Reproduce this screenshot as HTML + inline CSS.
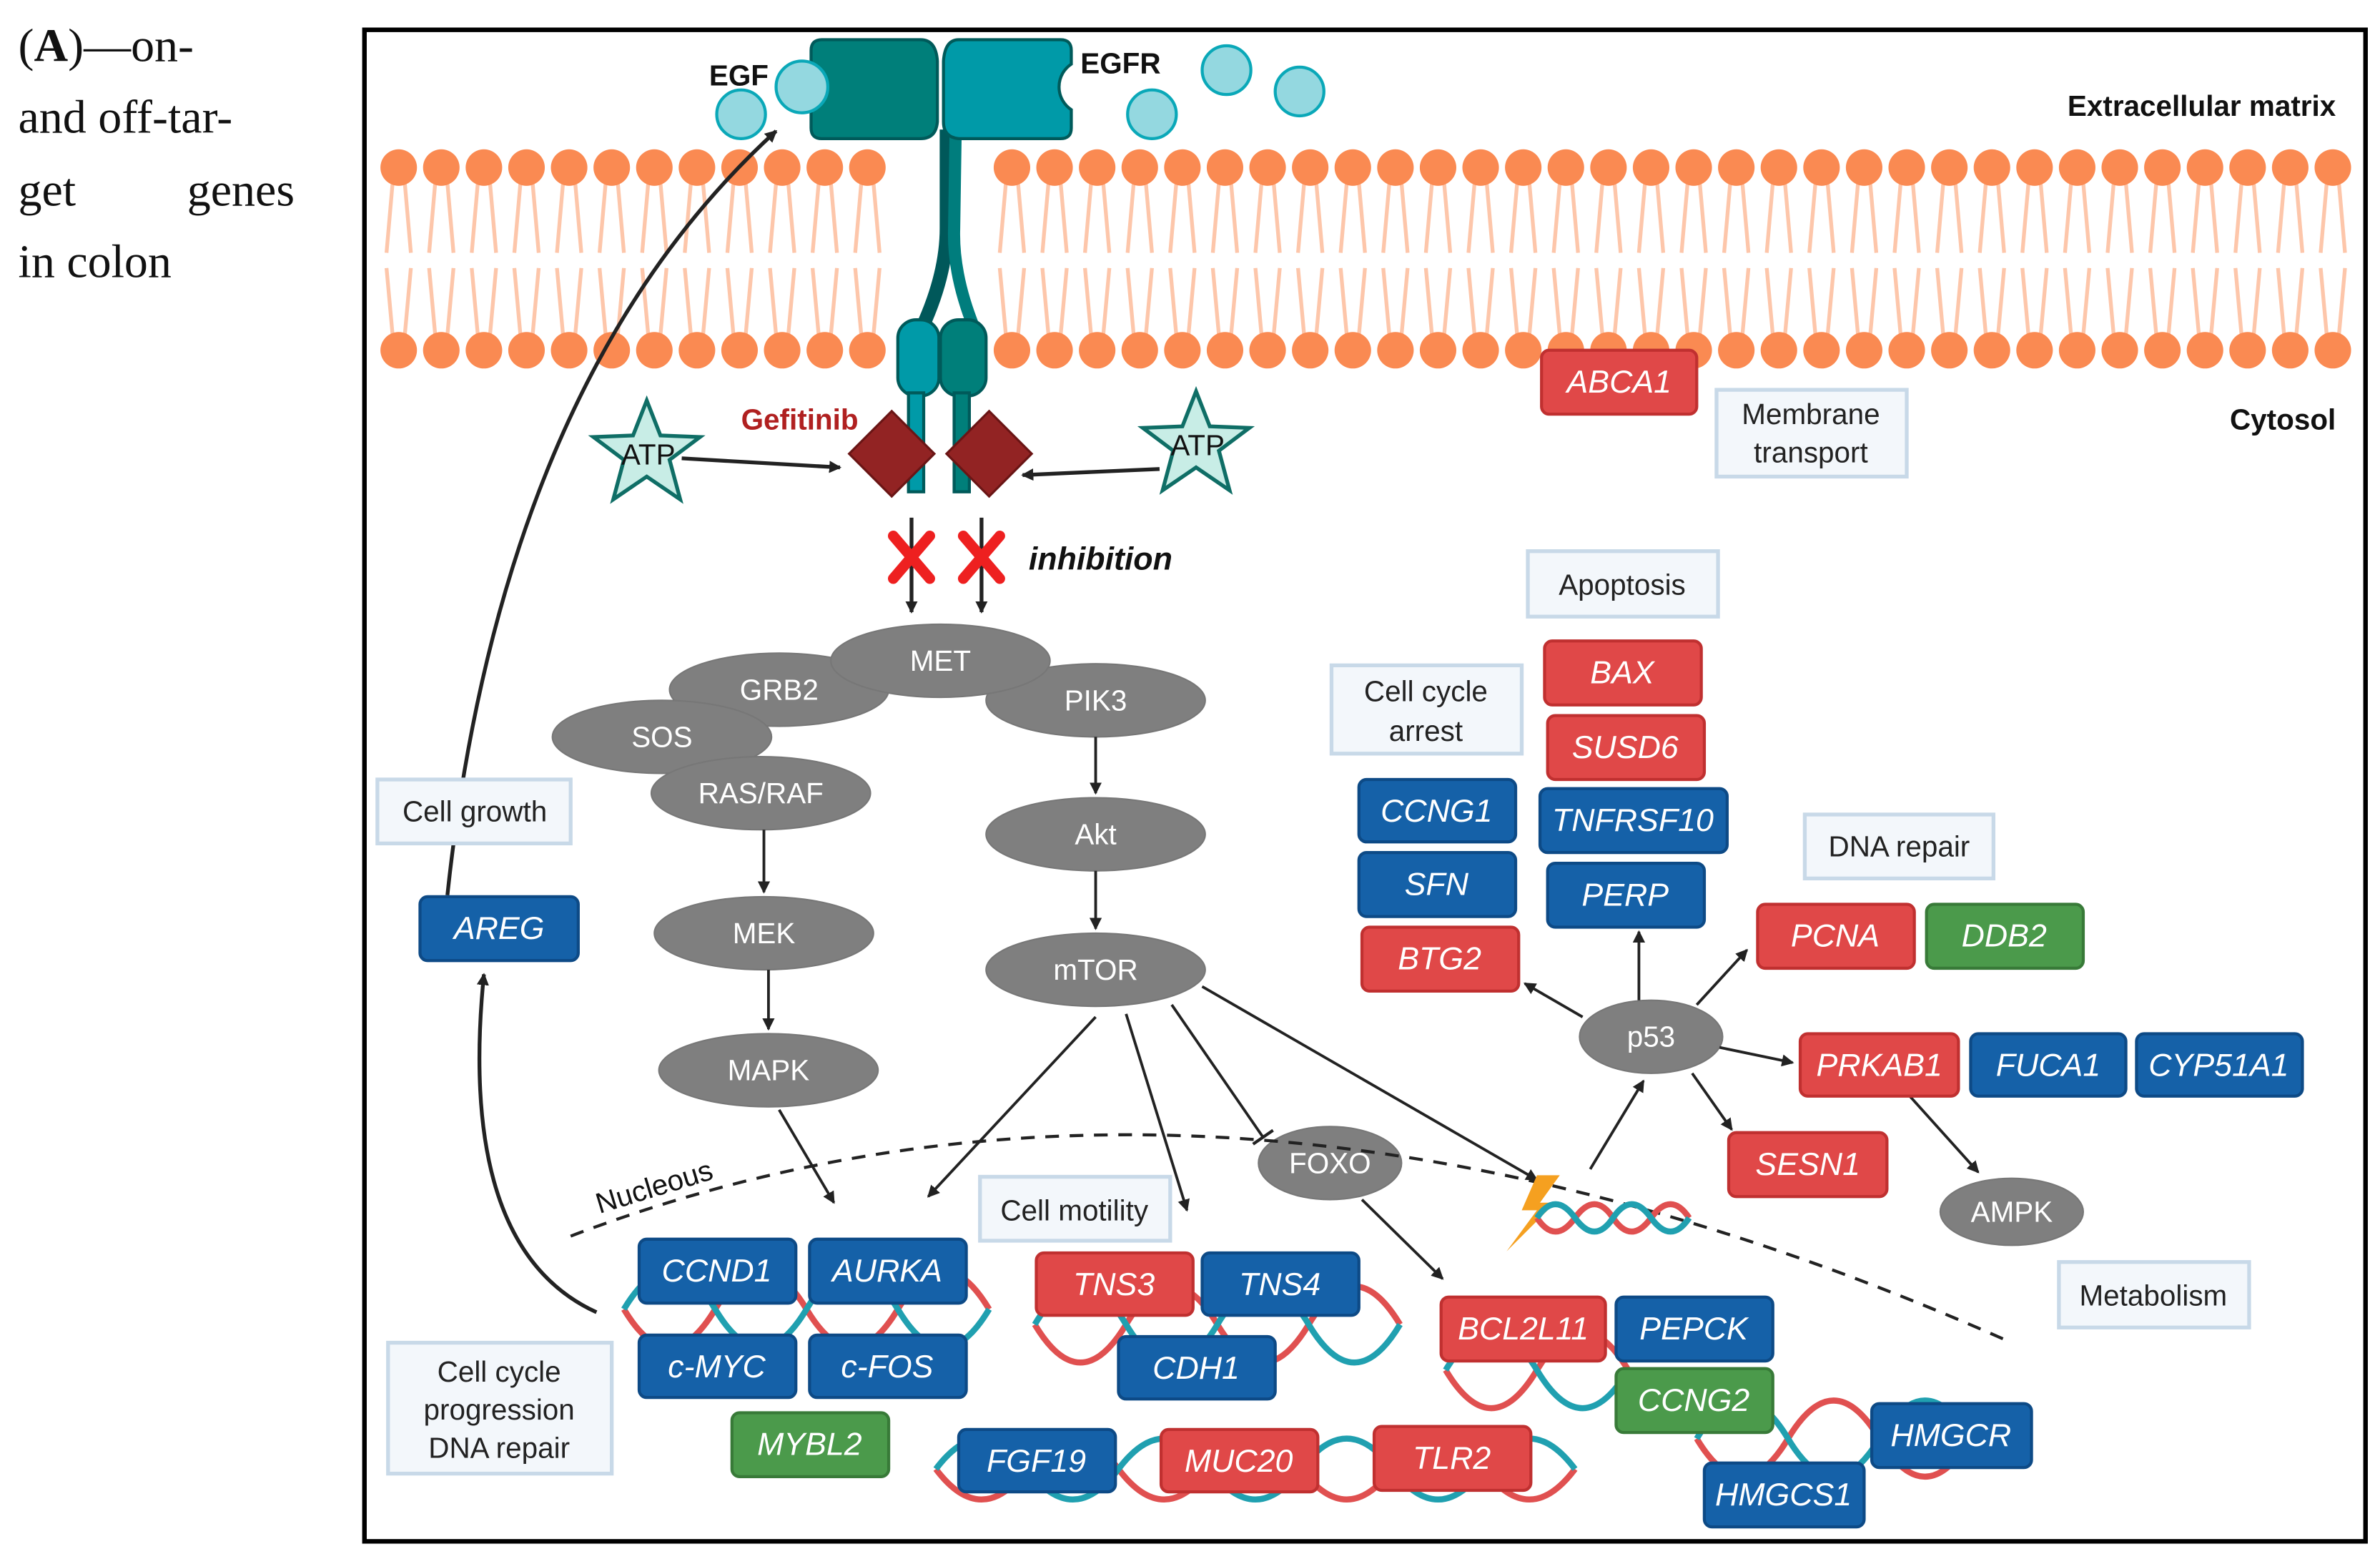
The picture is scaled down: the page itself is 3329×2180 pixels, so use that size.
<!DOCTYPE html>
<html><head><meta charset="utf-8"><style>
html,body{margin:0;padding:0;background:#fff;width:3329px;height:2180px;overflow:hidden}
svg{display:block}
text{font-family:"Liberation Sans",sans-serif}
text.s{font-family:"Liberation Serif",serif;font-size:31px;fill:#111}
.g{font-style:italic;font-size:21px;fill:#fff;text-anchor:middle;dominant-baseline:central}
.e{font-size:19px;fill:#fff;text-anchor:middle;dominant-baseline:central}
.l{font-size:19px;fill:#222;text-anchor:middle;dominant-baseline:central}
</style></head><body>
<svg width="3329" height="2180" viewBox="0 0 1564 1024" xmlns="http://www.w3.org/2000/svg">
<defs>
<marker id="a" markerWidth="8" markerHeight="8" refX="7" refY="4" orient="auto" markerUnits="userSpaceOnUse"><path d="M0,0 L8,4 L0,8 z" fill="#222" transform="scale(1.6) translate(-3,-1.5)"/></marker>
<marker id="t" markerWidth="4" markerHeight="16" refX="2" refY="8" orient="auto" markerUnits="userSpaceOnUse"><path d="M2,0 L2,16" stroke="#222" stroke-width="2"/></marker>
</defs>
<text class="s" x="12" y="40">(<tspan font-weight="bold">A</tspan>)—on-</text>
<text class="s" x="12" y="87">and  off-tar-</text>
<text class="s" x="12" y="135">get</text><text class="s" x="123" y="135">genes</text>
<text class="s" x="12" y="182">in colon</text>
<rect x="239.5" y="19.5" width="1315" height="993" fill="none" stroke="#000" stroke-width="3"/>
<g stroke="#fdc6aa" stroke-width="2.5" fill="none">
<path d="M258,120l-4,46M266,120l4,46M254,176l4,44M270,176l-4,44M286,120l-4,46M294,120l4,46M282,176l4,44M298,176l-4,44M314,120l-4,46M322,120l4,46M310,176l4,44M326,176l-4,44M342,120l-4,46M350,120l4,46M338,176l4,44M354,176l-4,44M370,120l-4,46M378,120l4,46M366,176l4,44M382,176l-4,44M398,120l-4,46M406,120l4,46M394,176l4,44M410,176l-4,44M426,120l-4,46M434,120l4,46M422,176l4,44M438,176l-4,44M454,120l-4,46M462,120l4,46M450,176l4,44M466,176l-4,44M482,120l-4,46M490,120l4,46M478,176l4,44M494,176l-4,44M510,120l-4,46M518,120l4,46M506,176l4,44M522,176l-4,44M538,120l-4,46M546,120l4,46M534,176l4,44M550,176l-4,44M566,120l-4,46M574,120l4,46M562,176l4,44M578,176l-4,44"/>
<path d="M661,120l-4,46M669,120l4,46M657,176l4,44M673,176l-4,44M689,120l-4,46M697,120l4,46M685,176l4,44M701,176l-4,44M717,120l-4,46M725,120l4,46M713,176l4,44M729,176l-4,44M745,120l-4,46M753,120l4,46M741,176l4,44M757,176l-4,44M773,120l-4,46M781,120l4,46M769,176l4,44M785,176l-4,44M801,120l-4,46M809,120l4,46M797,176l4,44M813,176l-4,44M829,120l-4,46M837,120l4,46M825,176l4,44M841,176l-4,44M857,120l-4,46M865,120l4,46M853,176l4,44M869,176l-4,44M885,120l-4,46M893,120l4,46M881,176l4,44M897,176l-4,44M913,120l-4,46M921,120l4,46M909,176l4,44M925,176l-4,44M941,120l-4,46M949,120l4,46M937,176l4,44M953,176l-4,44M969,120l-4,46M977,120l4,46M965,176l4,44M981,176l-4,44M997,120l-4,46M1005,120l4,46M993,176l4,44M1009,176l-4,44M1025,120l-4,46M1033,120l4,46M1021,176l4,44M1037,176l-4,44M1053,120l-4,46M1061,120l4,46M1049,176l4,44M1065,176l-4,44M1081,120l-4,46M1089,120l4,46M1077,176l4,44M1093,176l-4,44M1109,120l-4,46M1117,120l4,46M1105,176l4,44M1121,176l-4,44M1137,120l-4,46M1145,120l4,46M1133,176l4,44M1149,176l-4,44M1165,120l-4,46M1173,120l4,46M1161,176l4,44M1177,176l-4,44M1193,120l-4,46M1201,120l4,46M1189,176l4,44M1205,176l-4,44M1221,120l-4,46M1229,120l4,46M1217,176l4,44M1233,176l-4,44M1249,120l-4,46M1257,120l4,46M1245,176l4,44M1261,176l-4,44M1277,120l-4,46M1285,120l4,46M1273,176l4,44M1289,176l-4,44M1305,120l-4,46M1313,120l4,46M1301,176l4,44M1317,176l-4,44M1333,120l-4,46M1341,120l4,46M1329,176l4,44M1345,176l-4,44M1361,120l-4,46M1369,120l4,46M1357,176l4,44M1373,176l-4,44M1389,120l-4,46M1397,120l4,46M1385,176l4,44M1401,176l-4,44M1417,120l-4,46M1425,120l4,46M1413,176l4,44M1429,176l-4,44M1445,120l-4,46M1453,120l4,46M1441,176l4,44M1457,176l-4,44M1473,120l-4,46M1481,120l4,46M1469,176l4,44M1485,176l-4,44M1501,120l-4,46M1509,120l4,46M1497,176l4,44M1513,176l-4,44M1529,120l-4,46M1537,120l4,46M1525,176l4,44M1541,176l-4,44"/>
</g>
<g fill="#fa8a52">
<circle cx="262" cy="110" r="12"/><circle cx="290" cy="110" r="12"/><circle cx="318" cy="110" r="12"/><circle cx="346" cy="110" r="12"/><circle cx="374" cy="110" r="12"/><circle cx="402" cy="110" r="12"/><circle cx="430" cy="110" r="12"/><circle cx="458" cy="110" r="12"/><circle cx="486" cy="110" r="12"/><circle cx="514" cy="110" r="12"/><circle cx="542" cy="110" r="12"/><circle cx="570" cy="110" r="12"/>
<circle cx="262" cy="230" r="12"/><circle cx="290" cy="230" r="12"/><circle cx="318" cy="230" r="12"/><circle cx="346" cy="230" r="12"/><circle cx="374" cy="230" r="12"/><circle cx="402" cy="230" r="12"/><circle cx="430" cy="230" r="12"/><circle cx="458" cy="230" r="12"/><circle cx="486" cy="230" r="12"/><circle cx="514" cy="230" r="12"/><circle cx="542" cy="230" r="12"/><circle cx="570" cy="230" r="12"/>
<circle cx="665" cy="110" r="12"/><circle cx="693" cy="110" r="12"/><circle cx="721" cy="110" r="12"/><circle cx="749" cy="110" r="12"/><circle cx="777" cy="110" r="12"/><circle cx="805" cy="110" r="12"/><circle cx="833" cy="110" r="12"/><circle cx="861" cy="110" r="12"/><circle cx="889" cy="110" r="12"/><circle cx="917" cy="110" r="12"/><circle cx="945" cy="110" r="12"/><circle cx="973" cy="110" r="12"/><circle cx="1001" cy="110" r="12"/><circle cx="1029" cy="110" r="12"/><circle cx="1057" cy="110" r="12"/><circle cx="1085" cy="110" r="12"/><circle cx="1113" cy="110" r="12"/><circle cx="1141" cy="110" r="12"/><circle cx="1169" cy="110" r="12"/><circle cx="1197" cy="110" r="12"/><circle cx="1225" cy="110" r="12"/><circle cx="1253" cy="110" r="12"/><circle cx="1281" cy="110" r="12"/><circle cx="1309" cy="110" r="12"/><circle cx="1337" cy="110" r="12"/><circle cx="1365" cy="110" r="12"/><circle cx="1393" cy="110" r="12"/><circle cx="1421" cy="110" r="12"/><circle cx="1449" cy="110" r="12"/><circle cx="1477" cy="110" r="12"/><circle cx="1505" cy="110" r="12"/><circle cx="1533" cy="110" r="12"/>
<circle cx="665" cy="230" r="12"/><circle cx="693" cy="230" r="12"/><circle cx="721" cy="230" r="12"/><circle cx="749" cy="230" r="12"/><circle cx="777" cy="230" r="12"/><circle cx="805" cy="230" r="12"/><circle cx="833" cy="230" r="12"/><circle cx="861" cy="230" r="12"/><circle cx="889" cy="230" r="12"/><circle cx="917" cy="230" r="12"/><circle cx="945" cy="230" r="12"/><circle cx="973" cy="230" r="12"/><circle cx="1001" cy="230" r="12"/><circle cx="1029" cy="230" r="12"/><circle cx="1057" cy="230" r="12"/><circle cx="1085" cy="230" r="12"/><circle cx="1113" cy="230" r="12"/><circle cx="1141" cy="230" r="12"/><circle cx="1169" cy="230" r="12"/><circle cx="1197" cy="230" r="12"/><circle cx="1225" cy="230" r="12"/><circle cx="1253" cy="230" r="12"/><circle cx="1281" cy="230" r="12"/><circle cx="1309" cy="230" r="12"/><circle cx="1337" cy="230" r="12"/><circle cx="1365" cy="230" r="12"/><circle cx="1393" cy="230" r="12"/><circle cx="1421" cy="230" r="12"/><circle cx="1449" cy="230" r="12"/><circle cx="1477" cy="230" r="12"/><circle cx="1505" cy="230" r="12"/><circle cx="1533" cy="230" r="12"/>
</g>
<!-- EGFR -->
<g fill="none" stroke-linecap="butt">
<path d="M622,85 L622,150 Q622,180 606,215" stroke="#00585a" stroke-width="9"/>
<path d="M628,85 L627,150 Q626,180 640,215" stroke="#007d7d" stroke-width="8"/>
</g>
<g stroke="#005a5a" stroke-width="2">
<path d="M540,26 L605,26 Q615,26 616,40 L616,80 Q615,91 605,91 L540,91 Q533,91 533,84 L533,70 A18,18 0 0 0 533,44 L533,33 Q533,26 540,26z" fill="#007f7a"/>
<path d="M630,26 L697,26 Q704,26 704,33 L704,42 A18,18 0 0 0 704,72 L704,84 Q704,91 697,91 L630,91 Q620,90 620,80 L620,40 Q621,26 630,26z" fill="#009aa8"/>
<rect x="590" y="210" width="27" height="50" rx="12" fill="#009aa8"/>
<rect x="618" y="210" width="30" height="50" rx="12" fill="#007f7a"/>
<rect x="597" y="258" width="10" height="65" fill="#009aa8"/>
<rect x="627" y="258" width="10" height="65" fill="#007f7a"/>
</g>
<g fill="#94d8e0" stroke="#0aa8b8" stroke-width="2">
<circle cx="487" cy="75" r="16"/><circle cx="527" cy="57" r="17"/><circle cx="806" cy="46" r="16"/><circle cx="757" cy="75" r="16"/><circle cx="854" cy="60" r="16"/>
</g>
<text x="466" y="56" font-size="19" font-weight="bold" fill="#111">EGF</text>
<text x="710" y="48" font-size="19" font-weight="bold" fill="#111">EGFR</text>
<text x="1535" y="76" font-size="19" font-weight="bold" fill="#111" text-anchor="end">Extracellular matrix</text>
<text x="1535" y="282" font-size="19" font-weight="bold" fill="#111" text-anchor="end">Cytosol</text>
<text x="487" y="282" font-size="19" font-weight="bold" fill="#b02020">Gefitinib</text>
<g fill="#922323" stroke="#6a1515" stroke-width="1.5">
<path d="M586,270 L614,298 L586,326 L558,298z"/><path d="M650,270 L678,298 L650,326 L622,298z"/>
</g>
<g fill="#c8ede6" stroke="#0f6e66" stroke-width="2.5">
<path d="M425,263 L434,286 L460,287 L440,302 L447,328 L425,313 L403,328 L410,302 L390,287 L416,286z"/>
<path d="M786,257 L795,280 L821,281 L801,296 L808,322 L786,307 L764,322 L771,296 L751,281 L777,280z"/>
</g>
<text x="426" y="305" font-size="19" fill="#111" text-anchor="middle">ATP</text>
<text x="787" y="299" font-size="19" fill="#111" text-anchor="middle">ATP</text>
<g stroke="#222" stroke-width="2.5" fill="none">
<line x1="448" y1="301" x2="552" y2="307" marker-end="url(#a)"/>
<line x1="762" y1="308" x2="672" y2="312" marker-end="url(#a)"/>
<line x1="599" y1="340" x2="599" y2="402" marker-end="url(#a)"/>
<line x1="645" y1="340" x2="645" y2="402" marker-end="url(#a)"/>
<path d="M294,588 Q330,250 510,86" marker-end="url(#a)"/>
<path d="M392,862 Q300,820 318,640" marker-end="url(#a)"/>
</g>
<g stroke="#ee2020" stroke-width="7" stroke-linecap="round">
<path d="M587,352 L611,380 M611,352 L587,380"/><path d="M633,352 L657,380 M657,352 L633,380"/>
</g>
<text x="676" y="374" font-size="21" font-weight="bold" font-style="italic" fill="#111">inhibition</text>
<g fill="#7f7f7f" stroke="#777" stroke-width="1">
<ellipse cx="512" cy="453" rx="72" ry="24"/><ellipse cx="720" cy="460" rx="72" ry="24"/><ellipse cx="618" cy="434" rx="72" ry="24"/>
<ellipse cx="435" cy="484" rx="72" ry="24"/><ellipse cx="500" cy="521" rx="72" ry="24"/>
<ellipse cx="720" cy="548" rx="72" ry="24"/><ellipse cx="502" cy="613" rx="72" ry="24"/><ellipse cx="720" cy="637" rx="72" ry="24"/><ellipse cx="505" cy="703" rx="72" ry="24"/>
<ellipse cx="874" cy="764" rx="47" ry="24"/><ellipse cx="1085" cy="681" rx="47" ry="24"/><ellipse cx="1322" cy="796" rx="47" ry="22"/>
</g>
<text class="e" x="512" y="453">GRB2</text><text class="e" x="720" y="460">PIK3</text><text class="e" x="618" y="434">MET</text>
<text class="e" x="435" y="484">SOS</text><text class="e" x="500" y="521">RAS/RAF</text><text class="e" x="720" y="548">Akt</text>
<text class="e" x="502" y="613">MEK</text><text class="e" x="720" y="637">mTOR</text><text class="e" x="505" y="703">MAPK</text>
<text class="e" x="874" y="764">FOXO</text><text class="e" x="1085" y="681">p53</text><text class="e" x="1322" y="796">AMPK</text>
<g stroke="#222" stroke-width="1.8" fill="none">
<line x1="502" y1="545" x2="502" y2="586" marker-end="url(#a)"/>
<line x1="505" y1="637" x2="505" y2="676" marker-end="url(#a)"/>
<line x1="720" y1="484" x2="720" y2="521" marker-end="url(#a)"/>
<line x1="720" y1="572" x2="720" y2="610" marker-end="url(#a)"/>
<line x1="512" y1="729" x2="548" y2="790" marker-end="url(#a)"/>
<line x1="720" y1="668" x2="610" y2="786" marker-end="url(#a)"/>
<line x1="740" y1="666" x2="780" y2="795" marker-end="url(#a)"/>
<line x1="770" y1="660" x2="830" y2="747" marker-end="url(#t)"/>
<line x1="790" y1="648" x2="1010" y2="775" marker-end="url(#a)"/>
<line x1="895" y1="788" x2="948" y2="840" marker-end="url(#a)"/>
<line x1="1045" y1="768" x2="1080" y2="710" marker-end="url(#a)"/>
<line x1="1040" y1="668" x2="1002" y2="646" marker-end="url(#a)"/>
<line x1="1077" y1="657" x2="1077" y2="612" marker-end="url(#a)"/>
<line x1="1115" y1="660" x2="1148" y2="624" marker-end="url(#a)"/>
<line x1="1130" y1="688" x2="1178" y2="698" marker-end="url(#a)"/>
<line x1="1112" y1="705" x2="1138" y2="742" marker-end="url(#a)"/>
<line x1="1255" y1="720" x2="1300" y2="770" marker-end="url(#a)"/>
</g>
<path d="M375,812 Q800,650 1322,882" fill="none" stroke="#222" stroke-width="2" stroke-dasharray="9,7"/>
<text x="430" y="786" font-size="19" fill="#111" text-anchor="middle" transform="rotate(-17 430 780)">Nucleous</text>
<path d="M1010,772 L1000,795 L1010,795 L990,822 L1022,790 L1012,790 L1025,772z" fill="#f5a020"/>
<g fill="none" stroke-width="4">
<g stroke="#e05050">
<path d="M410,860 q30,50 60,0 t60,0 t60,0 t60,0"/><path d="M680,870 q30,50 60,0 t60,0 t60,0 t60,0"/><path d="M950,900 q30,50 60,0 t60,0"/>
<path d="M615,965 q30,40 60,0 t60,0 t60,0 t60,0 t60,0 t60,0 t60,0"/><path d="M1115,945 q30,50 60,0 t60,0 t60,0"/><path d="M1010,800 q12,18 25,0 t25,0 t25,0 t25,0"/>
</g>
<g stroke="#20a0b0">
<path d="M410,860 q30,-50 60,0 t60,0 t60,0 t60,0"/><path d="M680,870 q30,-50 60,0 t60,0 t60,0 t60,0"/><path d="M950,900 q30,-50 60,0 t60,0"/>
<path d="M615,965 q30,-40 60,0 t60,0 t60,0 t60,0 t60,0 t60,0 t60,0"/><path d="M1115,945 q30,-50 60,0 t60,0 t60,0"/><path d="M1010,800 q12,-18 25,0 t25,0 t25,0 t25,0"/>
</g>
</g>
<g fill="#f3f7fb" stroke="#c8d9e8" stroke-width="2.5">
<rect x="1128" y="256" width="125" height="57"/><rect x="1004" y="362" width="125" height="43"/><rect x="875" y="437" width="125" height="58"/>
<rect x="1186" y="535" width="124" height="42"/><rect x="248" y="512" width="127" height="42"/><rect x="644" y="773" width="125" height="42"/>
<rect x="1353" y="829" width="125" height="43"/><rect x="255" y="882" width="147" height="86"/>
</g>
<text class="l" x="1190" y="272">Membrane</text><text class="l" x="1190" y="297">transport</text>
<text class="l" x="1066" y="384">Apoptosis</text>
<text class="l" x="937" y="454">Cell cycle</text><text class="l" x="937" y="480">arrest</text>
<text class="l" x="1248" y="556">DNA repair</text><text class="l" x="312" y="533">Cell growth</text>
<text class="l" x="706" y="795">Cell motility</text><text class="l" x="1415" y="851">Metabolism</text>
<text class="l" x="328" y="901">Cell cycle</text><text class="l" x="328" y="926">progression</text><text class="l" x="328" y="951">DNA repair</text>
<g stroke-width="2">
<g fill="#e04848" stroke="#c03030">
<rect x="1013" y="230" width="102" height="42" rx="5"/><rect x="1015" y="421" width="103" height="42" rx="5"/><rect x="1017" y="470" width="103" height="42" rx="5"/>
<rect x="895" y="609" width="103" height="42" rx="5"/><rect x="1155" y="594" width="103" height="42" rx="5"/><rect x="1183" y="679" width="104" height="41" rx="5"/>
<rect x="1136" y="744" width="104" height="42" rx="5"/><rect x="681" y="823" width="103" height="41" rx="5"/><rect x="763" y="939" width="103" height="41" rx="5"/>
<rect x="903" y="937" width="103" height="42" rx="5"/><rect x="947" y="852" width="108" height="42" rx="5"/>
</g>
<g fill="#1561a8" stroke="#0d4a86">
<rect x="893" y="512" width="103" height="41" rx="5"/><rect x="1012" y="518" width="123" height="42" rx="5"/><rect x="893" y="560" width="103" height="42" rx="5"/>
<rect x="1017" y="567" width="103" height="42" rx="5"/><rect x="1295" y="679" width="102" height="41" rx="5"/><rect x="1404" y="679" width="109" height="41" rx="5"/>
<rect x="276" y="589" width="104" height="42" rx="5"/><rect x="420" y="814" width="103" height="42" rx="5"/><rect x="532" y="814" width="103" height="42" rx="5"/>
<rect x="420" y="877" width="103" height="41" rx="5"/><rect x="532" y="877" width="103" height="41" rx="5"/><rect x="790" y="823" width="103" height="41" rx="5"/>
<rect x="735" y="878" width="103" height="41" rx="5"/><rect x="630" y="939" width="103" height="41" rx="5"/><rect x="1062" y="852" width="103" height="42" rx="5"/>
<rect x="1230" y="922" width="105" height="42" rx="5"/><rect x="1120" y="961" width="105" height="42" rx="5"/>
</g>
<g fill="#4b9a4b" stroke="#387a38">
<rect x="1266" y="594" width="103" height="42" rx="5"/><rect x="481" y="928" width="103" height="42" rx="5"/><rect x="1062" y="899" width="103" height="42" rx="5"/>
</g>
</g>
<text class="g" x="1064" y="251">ABCA1</text><text class="g" x="1066" y="442">BAX</text><text class="g" x="1068" y="491">SUSD6</text>
<text class="g" x="946" y="630">BTG2</text><text class="g" x="1206" y="615">PCNA</text><text class="g" x="1235" y="700">PRKAB1</text>
<text class="g" x="1188" y="765">SESN1</text><text class="g" x="732" y="844">TNS3</text><text class="g" x="814" y="960">MUC20</text>
<text class="g" x="954" y="958">TLR2</text><text class="g" x="1001" y="873">BCL2L11</text>
<text class="g" x="944" y="533">CCNG1</text><text class="g" x="1073" y="539">TNFRSF10</text><text class="g" x="944" y="581">SFN</text>
<text class="g" x="1068" y="588">PERP</text><text class="g" x="1346" y="700">FUCA1</text><text class="g" x="1458" y="700">CYP51A1</text>
<text class="g" x="328" y="610">AREG</text><text class="g" x="471" y="835">CCND1</text><text class="g" x="583" y="835">AURKA</text>
<text class="g" x="471" y="898">c-MYC</text><text class="g" x="583" y="898">c-FOS</text><text class="g" x="841" y="844">TNS4</text>
<text class="g" x="786" y="899">CDH1</text><text class="g" x="681" y="960">FGF19</text><text class="g" x="1113" y="873">PEPCK</text>
<text class="g" x="1282" y="943">HMGCR</text><text class="g" x="1172" y="982">HMGCS1</text>
<text class="g" x="1317" y="615">DDB2</text><text class="g" x="532" y="949">MYBL2</text><text class="g" x="1113" y="920">CCNG2</text>
</svg>
</body></html>
